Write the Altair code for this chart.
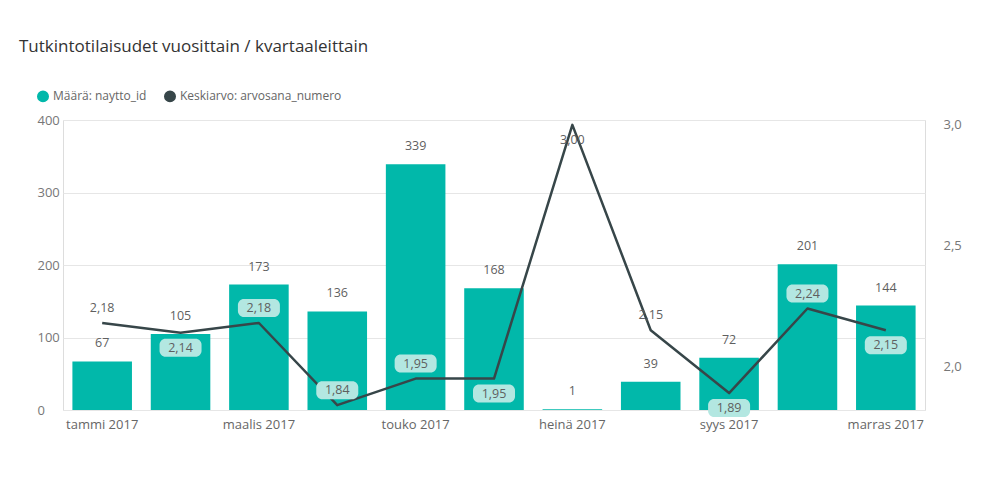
import altair as alt
import pandas as pd

# ---- data ----
months = ["tammi 2017", "helmi 2017", "maalis 2017", "huhti 2017", "touko 2017",
          "kesä 2017", "heinä 2017", "elo 2017", "syys 2017", "loka 2017", "marras 2017"]
counts = [67, 105, 173, 136, 339, 168, 1, 39, 72, 201, 144]
averages = [2.18, 2.14, 2.18, 1.84, 1.95, 1.95, 3.00, 2.15, 1.89, 2.24, 2.15]
x_tick_labels = months[::2]
left_ticks = [0, 100, 200, 300, 400]
right_ticks = [2.0, 2.5, 3.0]

# label placement of the line labels (style choice)
placement = ["above", "below", "above", "above", "above", "below",
             "below", "above", "below", "above", "below"]

BAR = "#01B8AA"
LINE = "#374649"
BOXC = "#B3E7E1"
TXT = "#5F5F5F"
FONT = "Open Sans"

L_MAX = 400
R_DOM = [1.82, 3.02]
PLOT_H = 290
OFF = 15

# a label gets a light box when it sits inside its bar
boxed = []
for c, a, p in zip(counts, averages, placement):
    frac = (a - R_DOM[0]) / (R_DOM[1] - R_DOM[0])
    shift = OFF / PLOT_H * L_MAX * (1 if p == "above" else -1)
    boxed.append(frac * L_MAX + shift < c)

df = pd.DataFrame({
    "month": months,
    "count": counts,
    "avg": averages,
    "pos": placement,
    "boxed": boxed,
})
df["avg_label"] = [f"{v:.2f}".replace(".", ",") for v in averages]

series_domain = ["Määrä: naytto_id", "Keskiarvo: arvosana_numero"]
color_scale = alt.Scale(domain=series_domain, range=[BAR, LINE])

x = alt.X("month:N", sort=months,
          scale=alt.Scale(paddingInner=0.24, paddingOuter=0.12),
          axis=alt.Axis(values=x_tick_labels, labelAngle=0, title=None, domain=False,
                        ticks=False, labelColor="#666666", labelFontSize=13,
                        labelPadding=8, labelFont=FONT))

base = alt.Chart(df)

bars = base.transform_calculate(series='"Määrä: naytto_id"').mark_bar().encode(
    x=x,
    y=alt.Y("count:Q", scale=alt.Scale(domain=[0, L_MAX], nice=False),
            axis=alt.Axis(values=left_ticks, title=None, domain=False, ticks=False,
                          gridColor="#E6E6E6", gridWidth=1, labelColor="#777777",
                          labelFontSize=13, labelAlign="left", labelPadding=26,
                          labelFont=FONT)),
    color=alt.Color("series:N", scale=color_scale,
                    legend=alt.Legend(title=None, orient="none", legendX=-26, legendY=-30,
                                      direction="horizontal", symbolType="circle",
                                      symbolSize=110, labelFontSize=12, labelColor="#666666",
                                      labelFont=FONT, columnPadding=14, symbolOpacity=1,
                                      labelLimit=0)),
)

bar_text = base.mark_text(dy=-11, baseline="bottom", fontSize=12.5, color=TXT,
                          font=FONT).encode(
    x=x, y=alt.Y("count:Q"), text=alt.Text("count:Q"))

left_layer = alt.layer(bars, bar_text)

y_r = alt.Y("avg:Q", scale=alt.Scale(domain=R_DOM, nice=False, zero=False),
            axis=alt.Axis(orient="right", values=right_ticks, title=None, grid=False,
                          domain=False, ticks=False, labelColor="#777777",
                          labelFontSize=13, labelPadding=18, labelFont=FONT,
                          labelExpr="replace(format(datum.value, '.1f'), '.', ',')"))

line = base.transform_calculate(series='"Keskiarvo: arvosana_numero"').mark_line(
    strokeWidth=2.5, strokeJoin="round").encode(
    x=x, y=y_r, color=alt.Color("series:N", scale=color_scale))

def label_layers(where, off):
    sub = base.transform_filter(f"datum.pos == '{where}'")
    box = sub.transform_filter("datum.boxed").mark_rect(
        width=42, height=18, cornerRadius=6, color=BOXC, yOffset=off).encode(
        x=x, y=alt.Y("avg:Q"))
    txt = sub.mark_text(dy=off, baseline="middle", fontSize=12.5, color=TXT,
                        font=FONT).encode(x=x, y=alt.Y("avg:Q"), text="avg_label:N")
    return [box, txt]

right_layer = alt.layer(line, *label_layers("above", -OFF), *label_layers("below", OFF))

chart = alt.layer(left_layer, right_layer).resolve_scale(y="independent").properties(
    width=862, height=PLOT_H,
    padding={"left": 63, "top": 120, "right": 74, "bottom": 80},
    autosize=alt.AutoSizeParams(type="none"),
    title=alt.TitleParams("Tutkintotilaisudet vuosittain / kvartaaleittain",
                          anchor="start", fontSize=17, font=FONT, fontWeight="normal",
                          color="#333333", dx=-18, offset=34),
).configure_view(stroke=None).configure(background="white")

chart.save("out.html", embed_options={"renderer": "svg", "actions": False})
